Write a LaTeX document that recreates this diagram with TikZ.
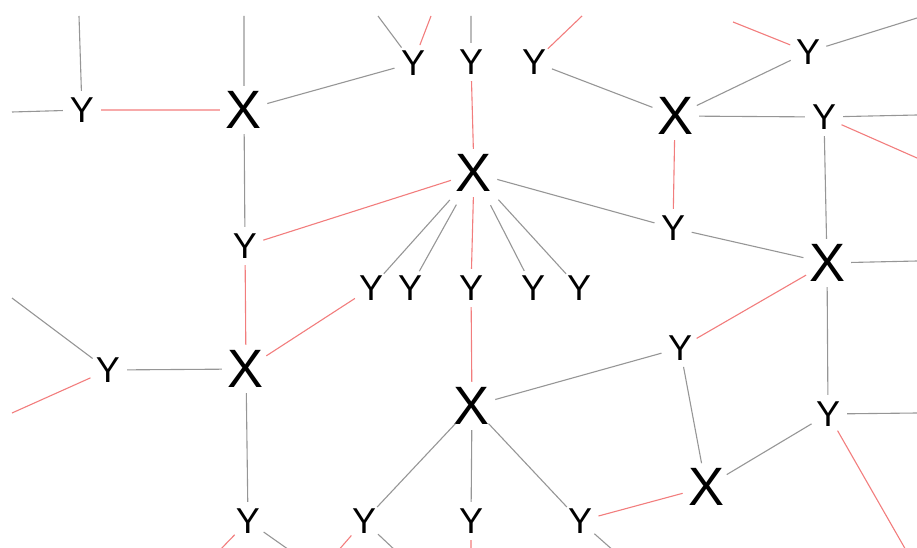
\documentclass[tikz,border=0pt]{standalone}
\usepackage{fontspec}
\setmainfont{Liberation Sans}
\definecolor{edgegray}{RGB}{150,150,150}
\definecolor{edgered}{RGB}{242,125,125}
\begin{document}
\begin{tikzpicture}[x=1pt,y=-1pt,
  xnode/.style={shape=circle,inner sep=-5pt,minimum size=48pt,font=\fontsize{54}{54}\selectfont},
  ynode/.style={shape=circle,inner sep=-3pt,minimum size=38pt,font=\fontsize{36}{36}\selectfont},
  gline/.style={draw=edgegray,line width=1.1pt},
  rline/.style={draw=edgered,line width=1.1pt},
  fan/.style={shorten <=12pt}]
\useasboundingbox (0,0) rectangle (917,548);
\clip (0,0) rectangle (917,548);

% X nodes
\node[xnode] (X1) at (244,110) {X};
\node[xnode] (X2) at (474,173) {X};
\node[xnode] (X3) at (675,116) {X};
\node[xnode] (X4) at (827,263) {X};
\node[xnode] (X5) at (246,369) {X};
\node[xnode] (X6) at (472,406) {X};
\node[xnode] (X7) at (706,487) {X};

% Y nodes
\node[ynode] (Ya) at (82,110) {Y};
\node[ynode] (Yb) at (413,63) {Y};
\node[ynode] (Yc) at (471,62) {Y};
\node[ynode] (Yd) at (534,62) {Y};
\node[ynode] (Ye) at (808,52) {Y};
\node[ynode] (Yf) at (824,117) {Y};
\node[ynode] (Yg) at (245,246) {Y};
\node[ynode] (Yh) at (673,228) {Y};
\node[ynode] (R1) at (371,288) {Y};
\node[ynode] (R2) at (410,288) {Y};
\node[ynode] (R3) at (471,288) {Y};
\node[ynode] (R4) at (533,288) {Y};
\node[ynode] (R5) at (579,288) {Y};
\node[ynode] (Yi) at (108,370) {Y};
\node[ynode] (Yj) at (680,348) {Y};
\node[ynode] (Yk) at (828,414) {Y};
\node[ynode] (B1) at (248,521) {Y};
\node[ynode] (B2) at (364,521) {Y};
\node[ynode] (B3) at (471,521) {Y};
\node[ynode] (B4) at (580,521) {Y};

% loose ends leaving the drawing
\coordinate (t1) at (79,16);
\coordinate (t2) at (12,112);
\coordinate (t3) at (244,16);
\coordinate (t4) at (378,16);
\coordinate (t5) at (471,16);
\coordinate (t6) at (431,16);
\coordinate (t7) at (582,16);
\coordinate (t8) at (733,22);
\coordinate (t9) at (917,18);
\coordinate (t10) at (917,115);
\coordinate (t11) at (917,158);
\coordinate (t12) at (917,261);
\coordinate (t13) at (12,298);
\coordinate (t14) at (12,413);
\coordinate (t15) at (917,413);
\coordinate (t16) at (907,552);
\coordinate (t17) at (218,552);
\coordinate (t18) at (292,552);
\coordinate (t19) at (337,552);
\coordinate (t20) at (397,552);
\coordinate (t21) at (471,552);
\coordinate (t22) at (615,552);

% gray connectors
\path[gline] (Ya) -- (t1) (Ya) -- (t2) (X1) -- (t3) (X1) -- (Yb) (Yb) -- (t4)
  (Yc) -- (t5) (Yd) -- (X3) (X3) -- (Ye) (Ye) -- (t9) (X3) -- (Yf) (Yf) -- (t10)
  (Yf) -- (X4) (X4) -- (t12) (X2) -- (Yh) (Yh) -- (X4) (X1) -- (Yg)
  (Yi) -- (X5) (Yi) -- (t13) (X5) -- (B1) (B1) -- (t18) (B2) -- (X6) (B2) -- (t20)
  (X6) -- (B3) (X6) -- (B4) (B4) -- (t22) (X6) -- (Yj) (Yj) -- (X7)
  (X4) -- (Yk) (Yk) -- (t15) (Yk) -- (X7);
\draw[gline,fan] (X2) -- (R1);
\draw[gline,fan] (X2) -- (R2);
\draw[gline,fan] (X2) -- (R4);
\draw[gline,fan] (X2) -- (R5);

% red connectors
\path[rline] (Ya) -- (X1) (Yb) -- (t6) (Yc) -- (X2) (Yd) -- (t7) (Ye) -- (t8)
  (Yf) -- (t11) (X3) -- (Yh) (X2) -- (Yg) (X2) -- (R3) (R3) -- (X6)
  (Yg) -- (X5) (X5) -- (R1) (Yi) -- (t14) (B1) -- (t17) (B2) -- (t19)
  (B3) -- (t21) (B4) -- (X7) (Yj) -- (X4) (Yk) -- (t16);
\end{tikzpicture}
\end{document}
